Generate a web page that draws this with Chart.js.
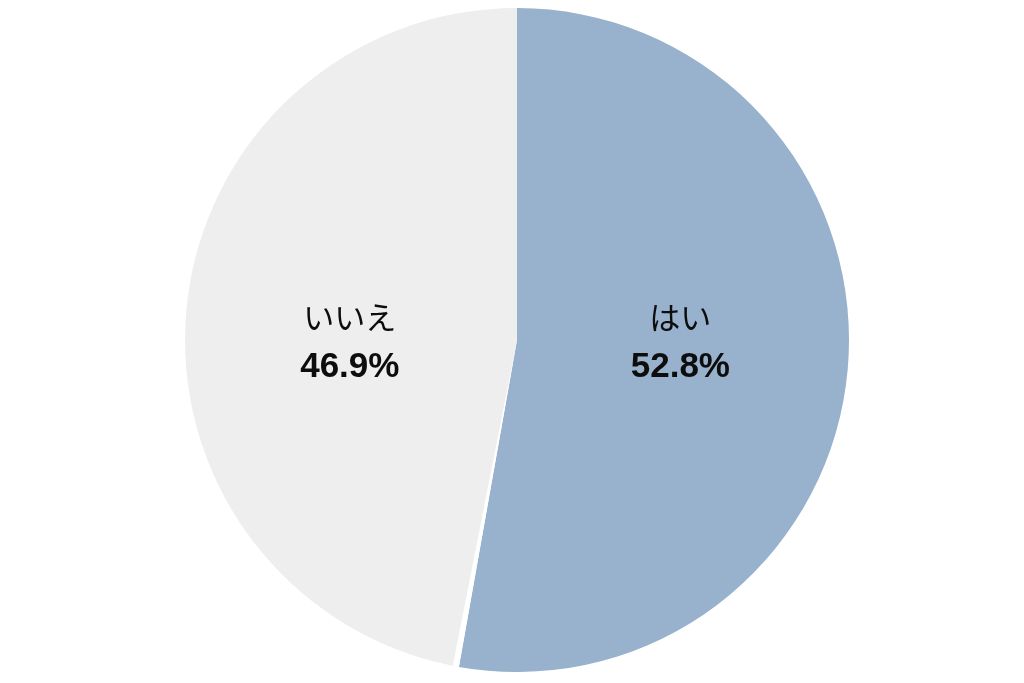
<!DOCTYPE html>
<html>
<head>
<meta charset="utf-8">
<script src="https://cdn.jsdelivr.net/npm/chart.js@4"></script>
<style>
  html, body { margin: 0; padding: 0; background: #fff; }
  #wrap { width: 1024px; height: 683px; }
</style>
</head>
<body>
<div id="wrap"><canvas id="pie"></canvas></div>
<script>
// data
const labels = ['はい', '', 'いいえ'];
const values = [52.8, 0.3, 46.9];
const colors = ['#98b1cc', '#ffffff', '#eeeeee'];
const showLabel = [true, false, true];

// draws two-line labels in the middle of each slice (same height for both)
const sliceLabels = {
  id: 'sliceLabels',
  afterDatasetsDraw(chart) {
    const ctx = chart.ctx;
    const meta = chart.getDatasetMeta(0);
    meta.data.forEach((arc, i) => {
      if (!showLabel[i]) return;
      const p = arc.getCenterPoint();
      const cy = arc.y;
      const x = p.x - 2;
      ctx.save();
      ctx.fillStyle = '#0d0d0d';
      ctx.textAlign = 'center';
      ctx.textBaseline = 'middle';
      ctx.font = '31px "Noto Sans CJK JP"';
      ctx.fillText(labels[i], x, cy - 23);
      ctx.font = 'bold 35px "Liberation Sans", Arial, sans-serif';
      ctx.fillText(values[i].toFixed(1) + '%', x, cy + 27);
      ctx.restore();
    });
  }
};

const config = {
  type: 'pie',
  data: {
    labels: labels,
    datasets: [{
      data: values,
      backgroundColor: colors,
      borderWidth: 0
    }]
  },
  options: {
    responsive: true,
    maintainAspectRatio: false,
    animation: false,
    layout: { padding: { top: 8, bottom: 11, left: 10, right: 0 } },
    plugins: {
      legend: { display: false },
      tooltip: { enabled: false }
    }
  },
  plugins: [sliceLabels]
};

const chart = new Chart('pie', config);
</script>
</body>
</html>
